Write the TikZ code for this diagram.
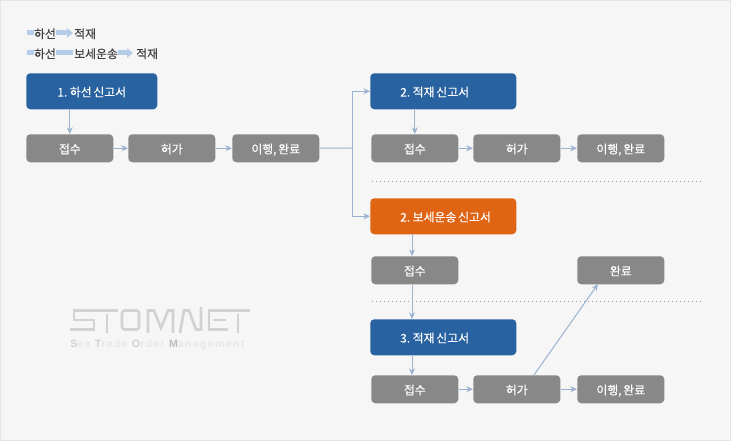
\documentclass[tikz,border=0pt]{standalone}
\usepackage{fontspec}
\setmainfont[FakeBold=0.2, WordSpace=0.65]{Noto Sans CJK KR}
\setsansfont[LetterSpace=12]{Liberation Sans}
\usetikzlibrary{arrows.meta}

\definecolor{formblue}{HTML}{2862A0}
\definecolor{formorange}{HTML}{DF6515}
\definecolor{stepgray}{HTML}{888888}
\definecolor{linkblue}{HTML}{9AB3D0}
\definecolor{legendblue}{HTML}{B5CDE8}
\definecolor{logogray}{HTML}{D2D2D2}

\newcommand{\formlabel}[1]{\makebox[64.5pt][l]{#1}}

\tikzset{
    box/.style={rounded corners=3pt, inner sep=0pt, text=white, font=\fontsize{8.9}{11}\selectfont, text height=8.9pt, text depth=1pt, anchor=north west},
    formbox/.style={box, minimum height=27pt},
    stepbox/.style={box, fill=stepgray, minimum width=65.25pt, minimum height=21pt},
    wideform/.style={formbox, minimum width=109.5pt},
    link/.style={linkblue, line width=0.75pt, -{Stealth[length=5pt,width=4.5pt]}},
    legendbar/.style={legendblue, line width=3.75pt},
    legendarrow/.style={legendbar, -{Triangle[length=4.5pt,width=7pt]}},
    legendtext/.style={inner sep=0pt, text=black!75, font=\fontsize{8.9}{11}\selectfont, text height=8.9pt, text depth=1pt},
    divider/.style={gray!80, line width=0.75pt, dash pattern=on 0.75pt off 2.25pt},
    logoline/.style={logogray, line width=2pt, double=black!11, double distance=1.4pt, line join=miter}
}

\begin{document}
\begin{tikzpicture}[x=0.75pt, y=-0.75pt]
    \useasboundingbox (0,0) rectangle (731,441);

    % Achtergrond
    \fill[black!3.5] (0,0) rectangle (731,441);
    \draw[black!10, line width=0.75pt] (0.5,0.5) rectangle (730.5,440.5);

    % Legenda
    \draw[legendbar] (27,33) -- (34,33);
    \node[legendtext] (legSea) at (45,33) {하선};
    \draw[legendarrow] (legSea.east) -- (73,33);
    \node[legendtext, anchor=west] (legLoad) at (74,33) {적재};

    \draw[legendbar] (27,53) -- (34,53);
    \node[legendtext] (legSeaB) at (45,53) {하선};
    \draw[legendbar] (legSeaB.east) -- (73,53);
    \node[legendtext, anchor=west] (legBond) at (74,53) {보세운송};
    \draw[legendarrow] (legBond.east) -- (133,53);
    \node[legendtext, anchor=west] (legLoadB) at (136,53) {적재};

    % Logo
    \begin{scope}[logoline]
        \draw (98,310.5) -- (74,310.5) -- (74,320) -- (94,320) -- (94,329.5) -- (70,329.5);
        \draw (96,310.5) -- (118,310.5);
        \draw (107,314) -- (107,333);
        \draw[rounded corners=2pt] (122,310.5) rectangle (139,329.5);
        \draw (148,333) -- (148,310.5) -- (154,310.5) -- (161,328) -- (168,310.5) -- (173,310.5) -- (173,333);
        \draw (180,333) -- (184,310.5) -- (189,310.5) -- (196,329.5) -- (201,329.5) -- (201,307);
        \draw (228,310.5) -- (209,310.5) -- (209,329.5) -- (228,329.5);
        \draw (213,320) -- (226,320);
        \draw (227,310.5) -- (250,310.5);
        \draw (238,314) -- (238,333);
    \end{scope}
    \node[inner sep=0pt, anchor=west, text=black!9, font=\sffamily\bfseries\fontsize{8}{10}\selectfont] (logoText) at (70,345)
        {{\color{black!18}S}ea {\color{black!18}T}rade {\color{black!18}O}rder {\color{black!26}M}anagement};

    % Scheidingslijnen
    \draw[divider] (372,182) -- (702,182);
    \draw[divider] (372,302) -- (702,302);

    % Eerste rij
    \node[formbox, fill=formblue, minimum width=98.25pt] (seaForm) at (26,73) {1. 하선 신고서};
    \node[stepbox] (seaRecv) at (26,134) {접수};
    \node[stepbox] (seaPerm) at (128,134) {허가};
    \node[stepbox] (seaDone) at (232,134) {이행, 완료};

    % Tweede rij
    \node[wideform, fill=formblue] (loadForm) at (370,73) {\formlabel{2. 적재 신고서}};
    \node[stepbox] (loadRecv) at (371,134) {접수};
    \node[stepbox] (loadPerm) at (473,134) {허가};
    \node[stepbox] (loadDone) at (577,134) {이행, 완료};

    % Derde rij
    \node[wideform, fill=formorange] (bondForm) at (370,198) {\formlabel{2. 보세운송 신고서}};
    \node[stepbox] (bondRecv) at (371,256) {접수};
    \node[stepbox] (bondDone) at (577,256) {완료};

    % Vierde rij
    \node[wideform, fill=formblue] (lastForm) at (370,319) {\formlabel{3. 적재 신고서}};
    \node[stepbox] (lastRecv) at (371,375) {접수};
    \node[stepbox] (lastPerm) at (473,375) {허가};
    \node[stepbox] (lastDone) at (577,375) {이행, 완료};

    % Pijlen
    \draw[link] (seaForm.south -| seaRecv.south) -- (seaRecv.north);
    \draw[link] (seaRecv) -- (seaPerm);
    \draw[link] (seaPerm) -- (seaDone);

    \coordinate (split) at (352,148);
    \draw[linkblue, line width=0.75pt] (seaDone) -- (split);
    \draw[link] (split) |- (loadForm.west);
    \draw[link] (split) |- (bondForm.west);

    \draw[link] (loadForm.south -| loadRecv.north) -- (loadRecv.north);
    \draw[link] (loadRecv) -- (loadPerm);
    \draw[link] (loadPerm) -- (loadDone);

    \coordinate (bondDrop) at (412,234);
    \draw[link] (bondDrop) -- (bondDrop |- bondRecv.north);
    \draw[link] (bondDrop |- bondRecv.south) -- (bondDrop |- lastForm.north);
    \draw[link] (bondDrop |- lastForm.south) -- (bondDrop |- lastRecv.north);

    \draw[link] (lastRecv) -- (lastPerm);
    \draw[link] (lastPerm) -- (lastDone);
    \coordinate (lastBranch) at (534,375);
    \coordinate (doneEntry) at (598,284);
    \draw[link] (lastBranch) -- (doneEntry);
\end{tikzpicture}
\end{document}
